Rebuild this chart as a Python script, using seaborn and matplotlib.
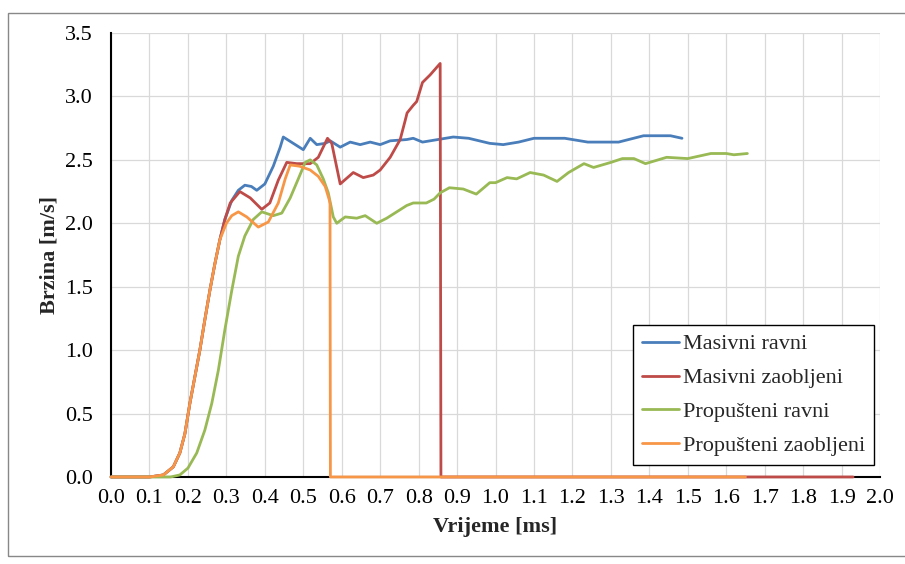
import numpy as np
import pandas as pd
import seaborn as sns
import matplotlib.pyplot as plt
from matplotlib.patches import Rectangle

# series (time in ms, speed in m/s)
names = ["Masivni ravni", "Masivni zaobljeni", "Propušteni ravni", "Propušteni zaobljeni"]
colors = ["#4A7EBB", "#BE4B48", "#98B954", "#F79646"]

t_mr = [0.0, 0.10, 0.136, 0.162, 0.179, 0.192, 0.205, 0.218, 0.231, 0.244, 0.257, 0.270,
        0.283, 0.296, 0.314, 0.331, 0.348, 0.365, 0.379, 0.40, 0.422, 0.44, 0.448, 0.474,
        0.50, 0.518, 0.535, 0.557, 0.57, 0.596, 0.622, 0.648, 0.674, 0.70, 0.726, 0.769,
        0.786, 0.81, 0.85, 0.89, 0.93, 0.985, 1.02, 1.06, 1.10, 1.18, 1.24, 1.32,
        1.385, 1.455, 1.485]
v_mr = [0.0, 0.0, 0.016, 0.08, 0.19, 0.34, 0.58, 0.79, 1.00, 1.24, 1.47, 1.68,
        1.87, 2.03, 2.18, 2.26, 2.30, 2.29, 2.26, 2.31, 2.45, 2.60, 2.68, 2.63,
        2.58, 2.67, 2.62, 2.63, 2.65, 2.60, 2.64, 2.62, 2.64, 2.62, 2.65, 2.66,
        2.67, 2.64, 2.66, 2.68, 2.67, 2.63, 2.62, 2.64, 2.67, 2.67, 2.64, 2.64,
        2.69, 2.69, 2.67]

t_mz = [0.0, 0.10, 0.136, 0.162, 0.179, 0.192, 0.205, 0.218, 0.231, 0.244, 0.257, 0.270,
        0.283, 0.296, 0.31, 0.335, 0.362, 0.392, 0.413, 0.435, 0.457, 0.483, 0.518, 0.539,
        0.563, 0.574, 0.596, 0.63, 0.656, 0.682, 0.70, 0.726, 0.752, 0.765, 0.77, 0.786,
        0.795, 0.81, 0.83, 0.856, 0.858, 1.93]
v_mz = [0.0, 0.0, 0.016, 0.08, 0.19, 0.34, 0.58, 0.79, 1.00, 1.24, 1.47, 1.68,
        1.87, 2.03, 2.16, 2.25, 2.20, 2.11, 2.16, 2.34, 2.48, 2.47, 2.47, 2.52,
        2.67, 2.63, 2.31, 2.40, 2.36, 2.38, 2.42, 2.52, 2.66, 2.81, 2.87, 2.93,
        2.96, 3.11, 3.17, 3.26, 0.0, 0.0]

t_pr = [0.0, 0.155, 0.179, 0.20, 0.223, 0.244, 0.262, 0.279, 0.296, 0.314, 0.331, 0.348,
        0.37, 0.392, 0.422, 0.444, 0.466, 0.487, 0.505, 0.518, 0.535, 0.552, 0.565, 0.578,
        0.587, 0.609, 0.639, 0.661, 0.691, 0.717, 0.743, 0.769, 0.786, 0.82, 0.84, 0.856,
        0.88, 0.916, 0.95, 0.985, 1.0, 1.03, 1.055, 1.09, 1.125, 1.16, 1.19, 1.23,
        1.255, 1.30, 1.33, 1.36, 1.39, 1.445, 1.50, 1.56, 1.60, 1.62, 1.655]
v_pr = [0.0, 0.0, 0.016, 0.07, 0.19, 0.37, 0.58, 0.84, 1.16, 1.47, 1.74, 1.90,
        2.03, 2.09, 2.06, 2.08, 2.20, 2.35, 2.48, 2.50, 2.46, 2.35, 2.24, 2.05,
        2.00, 2.05, 2.04, 2.06, 2.00, 2.04, 2.09, 2.14, 2.16, 2.16, 2.19, 2.24,
        2.28, 2.27, 2.23, 2.32, 2.32, 2.36, 2.35, 2.40, 2.38, 2.33, 2.40, 2.47,
        2.44, 2.48, 2.51, 2.51, 2.47, 2.52, 2.51, 2.55, 2.55, 2.54, 2.55]

t_pz = [0.0, 0.10, 0.136, 0.162, 0.179, 0.192, 0.205, 0.218, 0.231, 0.244, 0.257, 0.270,
        0.283, 0.30, 0.314, 0.331, 0.353, 0.383, 0.409, 0.435, 0.453, 0.466, 0.49, 0.518,
        0.539, 0.557, 0.568, 0.5695, 0.5705, 1.65]
v_pz = [0.0, 0.0, 0.016, 0.08, 0.19, 0.34, 0.58, 0.79, 1.00, 1.24, 1.47, 1.68,
        1.87, 2.00, 2.06, 2.09, 2.05, 1.97, 2.01, 2.16, 2.35, 2.46, 2.45, 2.42,
        2.37, 2.29, 2.18, 2.15, 0.0, 0.0]

frames = []
for name, t, v in zip(names, [t_mr, t_mz, t_pr, t_pz], [v_mr, v_mz, v_pr, v_pz]):
    frames.append(pd.DataFrame({"t": t, "v": v, "serija": name}))
df = pd.concat(frames, ignore_index=True)

sns.set_style("white")
plt.rcParams['font.family'] = ['Liberation Serif', 'DejaVu Serif']

fig = plt.figure(figsize=(9.05, 5.64), dpi=100)
ax = fig.add_axes([0.1227, 0.1543, 0.8497, 0.7872])

sns.lineplot(data=df, x="t", y="v", hue="serija", hue_order=names,
             palette=colors, estimator=None, sort=False, linewidth=2.0,
             zorder=3, clip_on=False, ax=ax)

ax.set_xlim(0, 2.0)
ax.set_ylim(0, 3.5)
ax.set_xticks(np.arange(0, 2.01, 0.1))
ax.set_yticks(np.arange(0, 3.51, 0.5))
ax.set_xticklabels([f"{x:.1f}" for x in np.arange(0, 2.01, 0.1)])
ax.set_yticklabels([f"{y:.1f}" for y in np.arange(0, 3.51, 0.5)])
ax.grid(True, color="#D9D9D9", linewidth=0.9)
ax.set_axisbelow(True)

for s in ["top", "right"]:
    ax.spines[s].set_visible(False)
for s in ["left", "bottom"]:
    ax.spines[s].set_color("black")
    ax.spines[s].set_linewidth(1.5)

ax.tick_params(axis="both", direction="in", length=3.6, width=1.5, colors="black",
               labelsize=16, labelcolor="black")
ax.tick_params(axis="x", pad=9)
ax.tick_params(axis="y", pad=13)

ax.set_xlabel("Vrijeme [ms]", fontsize=16, fontweight="bold", labelpad=6)
ax.set_ylabel("Brzina [m/s]", fontsize=16, fontweight="bold", labelpad=4)

handles, labels = ax.get_legend_handles_labels()
leg = ax.legend(handles, labels, loc="lower right", bbox_to_anchor=(0.992, 0.027),
                fontsize=16, frameon=True, fancybox=False, framealpha=1,
                edgecolor="black", handlelength=1.7, handletextpad=0.15,
                labelspacing=0.6, borderpad=0.4, borderaxespad=0)
leg.get_frame().set_linewidth(1.0)
leg.set_zorder(5)

# outer chart border
fig.patches.append(Rectangle((8 / 905, 0.0142), 1.2, 0.977 - 0.0142,
                             transform=fig.transFigure, fill=False,
                             edgecolor="#888888", linewidth=1.0))

fig.savefig("out.png", dpi=100)
